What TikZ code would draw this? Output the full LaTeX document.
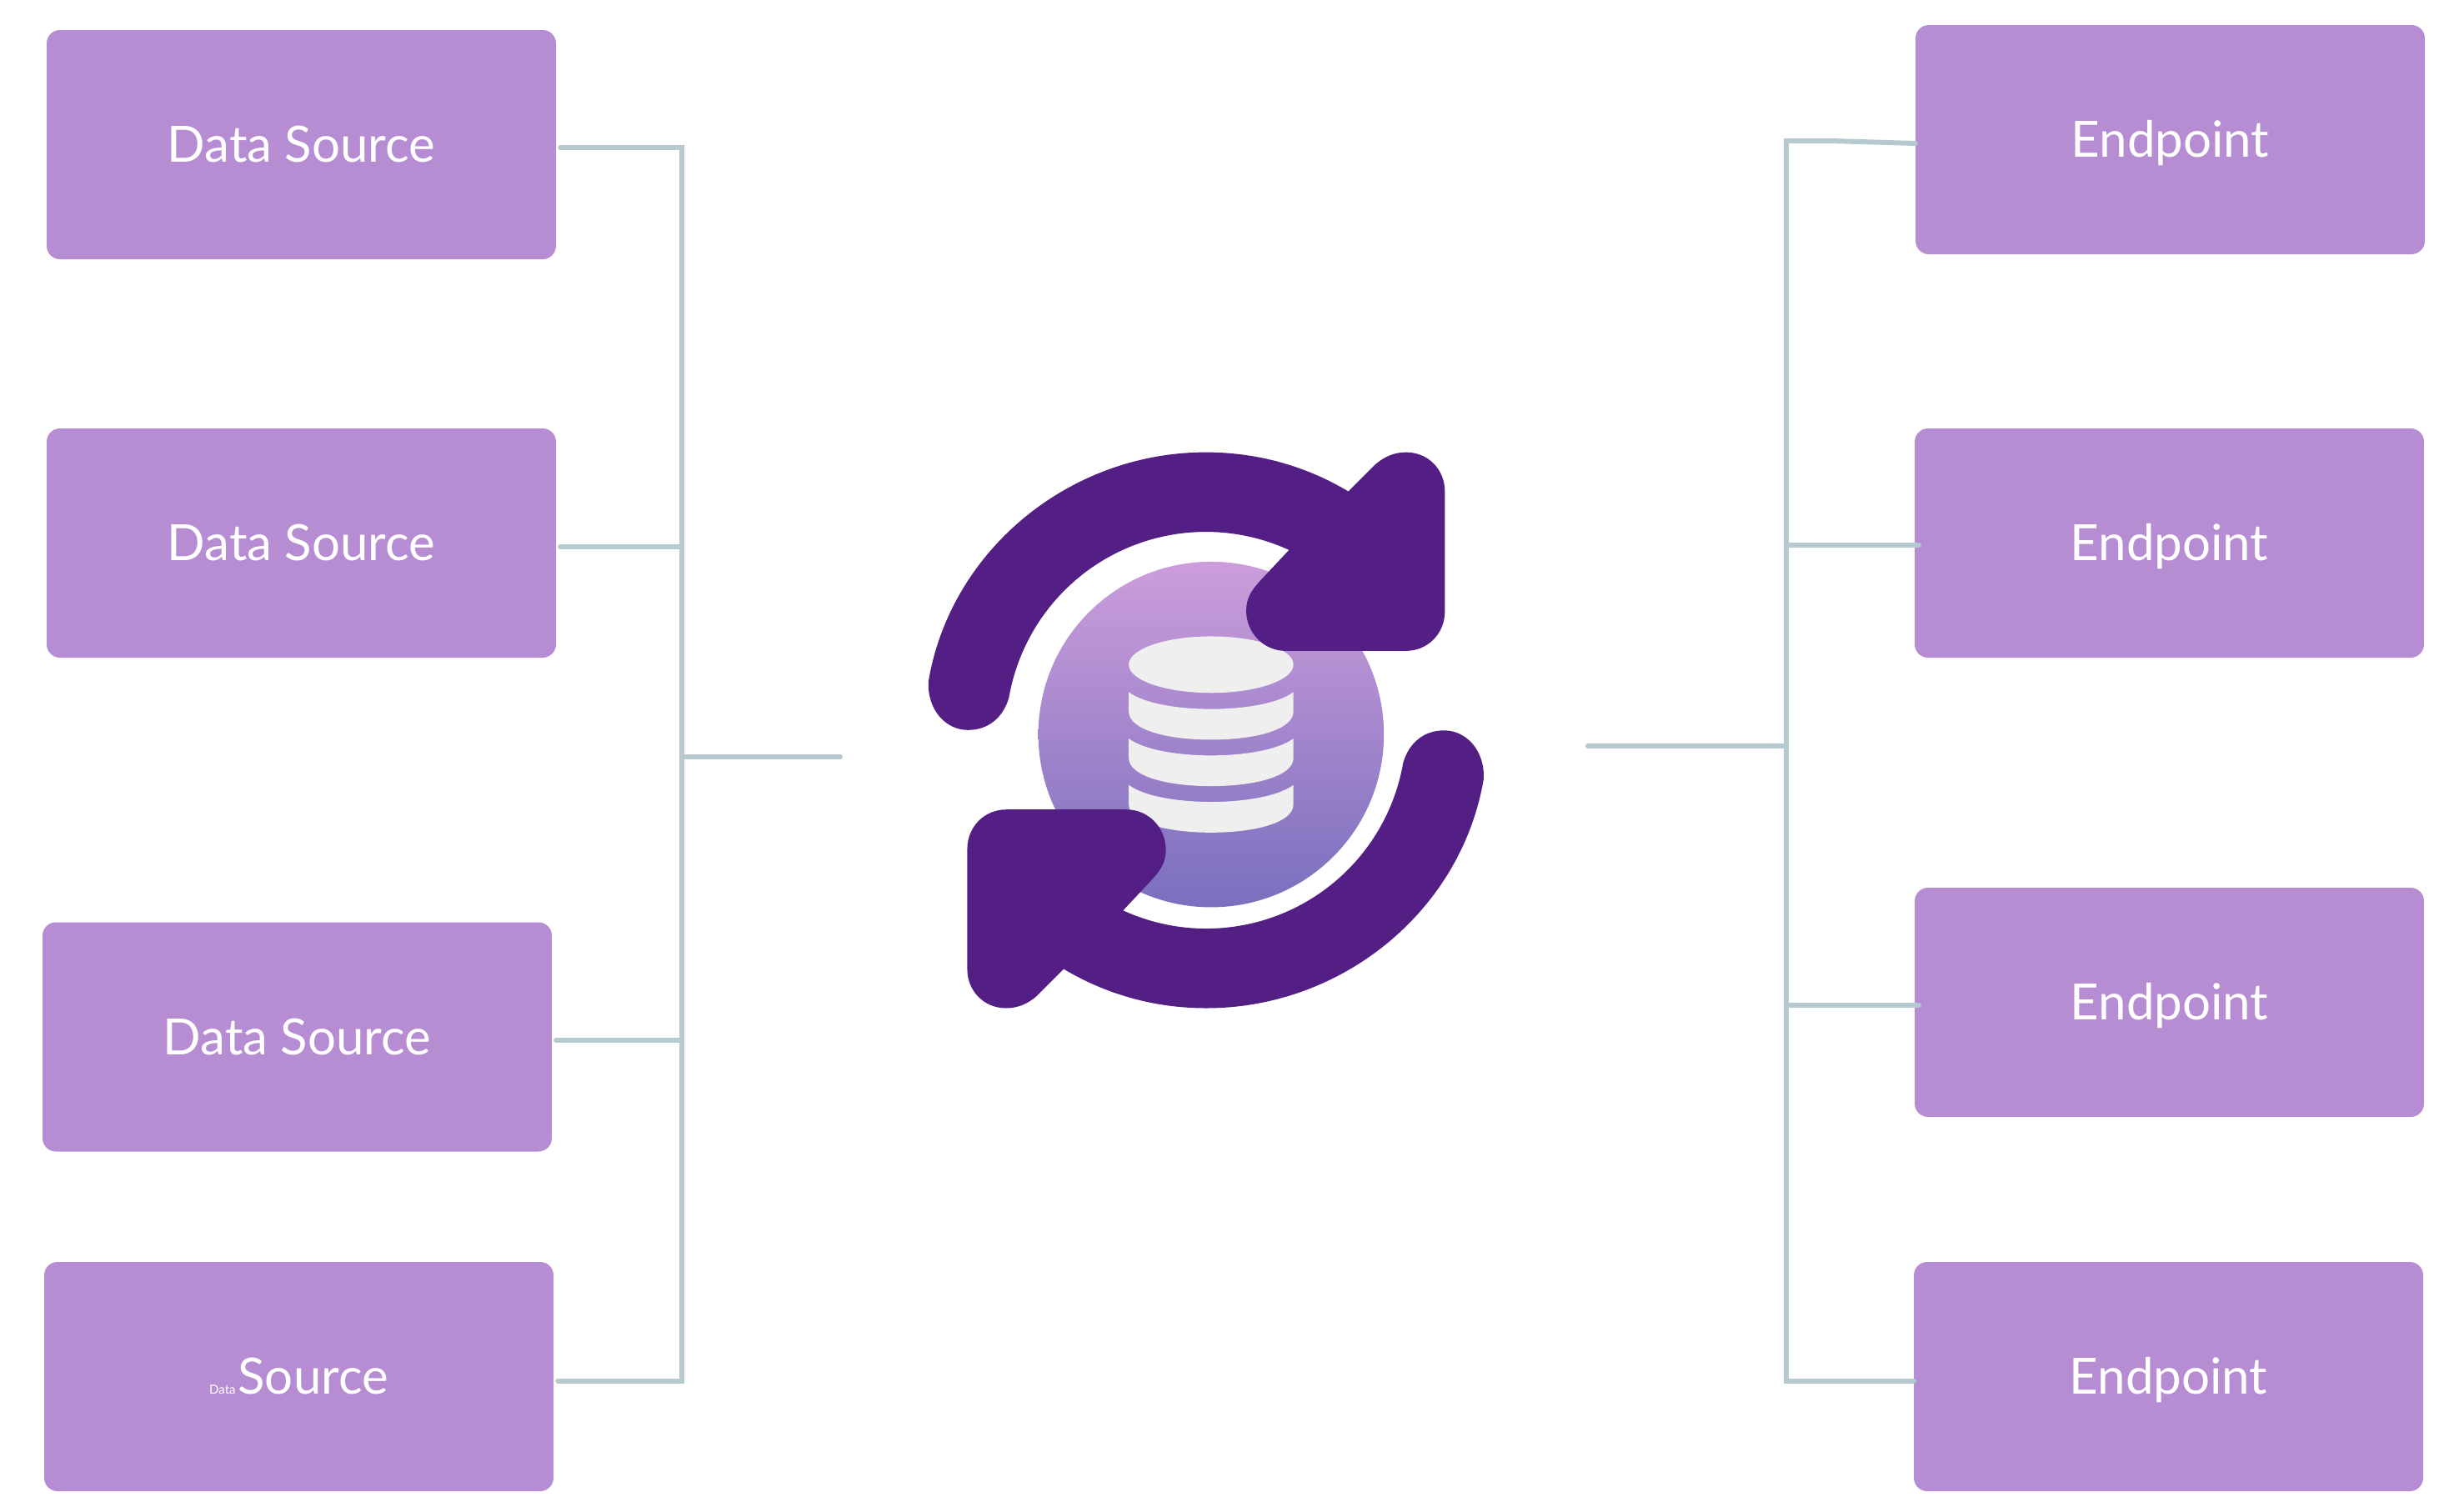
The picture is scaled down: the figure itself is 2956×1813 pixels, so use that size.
\documentclass[tikz,border=0pt]{standalone}
\usepackage{fontspec}
\setmainfont{Lato}
\definecolor{boxpurple}{HTML}{B68DD2}
\definecolor{arrowpurple}{HTML}{531F85}
\definecolor{busgrey}{HTML}{B5C9CF}
\definecolor{diskgrey}{HTML}{EFEFEF}
\definecolor{orbtop}{HTML}{CC9DDB}
\definecolor{orbbot}{HTML}{7A6FBE}
\tikzset{
  tile/.style={fill=boxpurple, rounded corners=16pt, minimum width=611pt, minimum height=275pt,
    inner sep=0pt, text=white, text height=42pt, text depth=0pt, font=\fontsize{60}{72}\selectfont},
  busline/.style={draw=busgrey, line width=6pt, line cap=round, line join=miter},
}
\begin{document}
\begin{tikzpicture}[x=1pt, y=-1pt]

  %% data sources
  \node[tile] (srcA) at (361.5,173.5) {Data Source};
  \node[tile] (srcB) at (361.5,651.5) {Data Source};
  \node[tile] (srcC) at (356.5,1244) {Data Source};
  \node[tile] (srcD) at (358.5,1651.5) {{\fontsize{15}{18}\selectfont Data}\hspace{3pt}Source};

  %% endpoints
  \node[tile] (snkA) at (2603.5,167.5) {Endpoint};
  \node[tile] (snkB) at (2602.5,651.5) {Endpoint};
  \node[tile] (snkC) at (2602.5,1202.5) {Endpoint};
  \node[tile] (snkD) at (2601.5,1651.5) {Endpoint};

  %% bus coordinates
  \coordinate (busL) at (818,908);
  \coordinate (hubL) at (1008,908);
  \coordinate (busR) at (2143,895);
  \coordinate (hubR) at (1905,895);
  \coordinate (kinkR) at (2196,169);

  %% left bus
  \draw[busline] ([xshift=5pt,yshift=-3.5pt]srcA.east) -| (busL);
  \draw[busline] ([xshift=5pt,yshift=-4.5pt]srcB.east) -| (busL);
  \draw[busline] ([xshift=5pt,yshift=-4pt]srcC.east) -| (busL);
  \draw[busline] ([xshift=5pt,yshift=-5.5pt]srcD.east) -| (busL);
  \draw[busline] (busL) -- (hubL);

  %% right bus
  \draw[busline] ([yshift=-4.5pt]snkA.west) -- (kinkR) -| (busR);
  \draw[busline] ([xshift=5pt,yshift=-2.5pt]snkB.west) -| (busR);
  \draw[busline] ([xshift=5pt,yshift=-3.5pt]snkC.west) -| (busR);
  \draw[busline] ([yshift=-5.5pt]snkD.west) -| (busR);
  \draw[busline] (hubR) -- (busR);

  %% sync icon, same scale as the crop
  \begin{scope}[shift={(1080,500)}, x=0.4843pt, y=-0.4843pt]
    \shade[top color=orbtop, bottom color=orbbot] (770,787) circle [radius=428];

    % database
    \fill[diskgrey] (770,614) ellipse [x radius=204, y radius=70];
    \fill[diskgrey] (566,682) .. controls (640,738) and (900,738) .. (974,682) -- (974,730)
      .. controls (974,775) and (880,800) .. (770,800) .. controls (660,800) and (566,775) .. (566,730) -- cycle;
    \fill[diskgrey] (566,797) .. controls (640,853) and (900,853) .. (974,797) -- (974,845)
      .. controls (974,890) and (880,915) .. (770,915) .. controls (660,915) and (566,890) .. (566,845) -- cycle;
    \fill[diskgrey] (566,912) .. controls (640,968) and (900,968) .. (974,912) -- (974,960)
      .. controls (974,1005) and (880,1030) .. (770,1030) .. controls (660,1030) and (566,1005) .. (566,960) -- cycle;

    % two arrows
    \foreach \turn in {0,180} {
      \fill[arrowpurple, rotate around={\turn:(757.5,776.5)}]
        (70,655) .. controls (125,330) and (420,88) .. (757,88)
        .. controls (890,88) and (1010,125) .. (1110,185)
        -- (1177,118) .. controls (1200,98) and (1225,88) .. (1253,88)
        .. controls (1307,88) and (1349,130) .. (1349,185) -- (1349,482)
        .. controls (1349,537) and (1307,580) .. (1252,580) -- (955,580)
        .. controls (900,580) and (857,535) .. (857,480)
        .. controls (857,450) and (870,430) .. (890,408) -- (963,330)
        arc [start angle=294.6, end angle=189.8, radius=495]
        .. controls (255,745) and (218,776) .. (168,776)
        .. controls (112,776) and (66,725) .. (70,655) -- cycle;
    }
  \end{scope}

  \path[use as bounding box] (0,0) rectangle (2956,1813);
\end{tikzpicture}
\end{document}
